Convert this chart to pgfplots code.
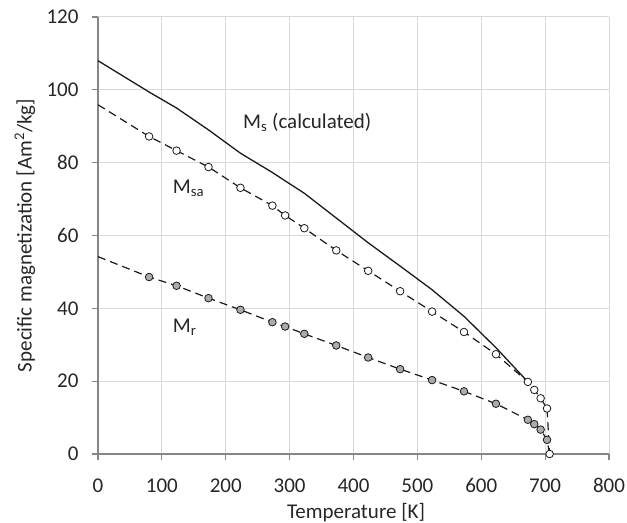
\documentclass[border=0pt]{standalone}
\usepackage{fontspec}
\setmainfont{Carlito}
\usepackage{pgfplots}
\pgfplotsset{compat=1.18}
\definecolor{gridc}{HTML}{D9D9D9}
\definecolor{axc}{HTML}{868686}
\definecolor{txt}{HTML}{262626}
\definecolor{fillg}{HTML}{ABABAB}
\definecolor{linec}{HTML}{1A1A1A}
\begin{document}
\begin{tikzpicture}
\path[use as bounding box] (-98bp,-69bp) rectangle (529bp,454bp);
\begin{axis}[
  scale only axis, width=511bp, height=437bp,
  xmin=0, xmax=800, ymin=0, ymax=120,
  xtick={0,100,...,800}, ytick={0,20,...,120},
  axis x line=bottom, axis y line=left,
  axis line style={-, axc, line width=1.2bp},
  grid=major, major grid style={gridc, line width=1bp},
  tick align=outside, major tick length=6bp,
  tick style={axc, line width=1.2bp},
  font=\fontsize{21bp}{25bp}\selectfont,
  text=txt,
  /pgf/number format/assume math mode=true,
  xticklabel style={text=txt, yshift=-15bp},
  yticklabel style={text=txt, xshift=-10bp},
  xlabel={Temperature [K]},
  ylabel={Specific magnetization [Am\textsuperscript{2}/kg]},
  xlabel style={at={(axis description cs:0.505,-0.134)}, anchor=center, text=txt},
  ylabel style={at={(axis description cs:-0.143,0.5)}, anchor=center, text=txt},
  clip=false,
]
% M_s (calculated)
\addplot[linec, line width=1.3bp, no marks] coordinates {
(0,108.0) (80,99.4) (123,95.0) (173,89.0) (223,82.6) (273,77.3) (293,75.0)
(323,71.6) (373,64.8) (423,58.0) (473,51.6) (523,45.1) (573,37.8) (623,29.2) (673,19.8)
};
% M_r
\addplot[linec, line width=1.2bp, dash pattern=on 8bp off 5bp,
  mark=*, mark size=3.8bp,
  mark options={solid, fill=fillg, draw=linec, line width=0.8bp},
  mark indices={2,3,4,5,6,7,8,9,10,11,12,13,14,15,16,17,18}] coordinates {
(0,54.2) (80,48.6) (123,46.2) (173,42.8) (223,39.6) (273,36.2) (293,35.0)
(323,33.0) (373,29.8) (423,26.5) (473,23.3) (523,20.3) (573,17.2) (623,13.8)
(673,9.4) (683,8.2) (693,6.7) (703,3.9) (707,0)
};
% M_sa
\addplot[linec, line width=1.2bp, dash pattern=on 8bp off 5bp,
  mark=*, mark size=3.8bp,
  mark options={solid, fill=white, draw=linec, line width=0.8bp},
  mark indices={2,3,4,5,6,7,8,9,10,11,12,13,14,15,16,17,18,19}] coordinates {
(0,95.9) (80,87.2) (123,83.3) (173,78.8) (223,73.1) (273,68.2) (293,65.5)
(323,62.0) (373,55.9) (423,50.3) (473,44.7) (523,39.1) (573,33.5) (623,27.4)
(673,19.8) (683,17.6) (693,15.3) (703,12.5) (707,0)
};
\node[anchor=base west, inner sep=0pt, text=txt] at (axis cs:227,89.4) {M\textsubscript{s} (calculated)};
\node[anchor=base west, inner sep=0pt, text=txt] at (axis cs:117,71.6) {M\textsubscript{sa}};
\node[anchor=base west, inner sep=0pt, text=txt] at (axis cs:117,33.3) {M\textsubscript{r}};
\end{axis}
\end{tikzpicture}
\end{document}
